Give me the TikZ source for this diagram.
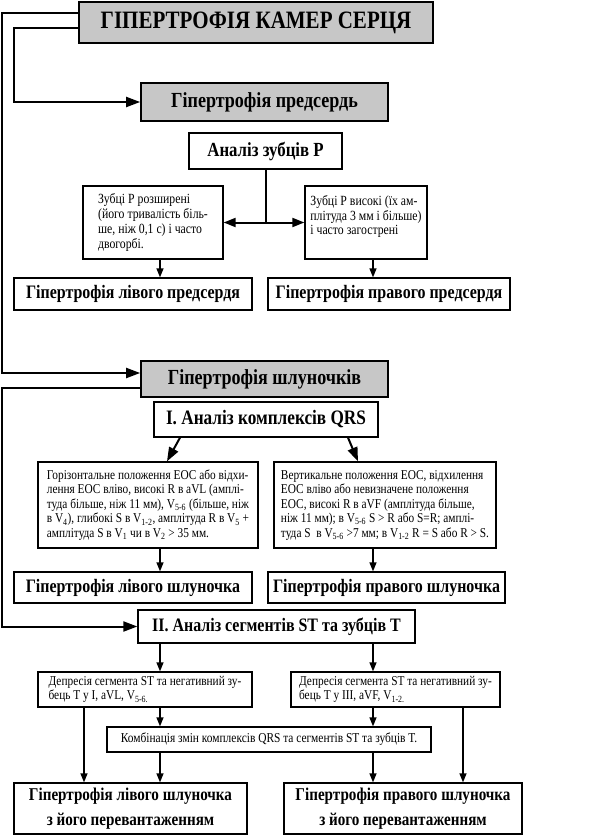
\documentclass[tikz,border=0pt]{standalone}
\usepackage{fontspec}
\setmainfont{Liberation Serif}[FakeStretch=0.84]
\usetikzlibrary{arrows.meta}

\begin{document}
\begin{tikzpicture}[x=1pt, y=-1pt,
    box/.style={draw, line width=1.3pt, inner sep=0pt, align=center},
    graybox/.style={box, fill=black!22, line width=1.7pt},
    head/.style={font=\bfseries\fontsize{19}{24}\selectfont},
    bighead/.style={font=\bfseries\fontsize{21.5}{24}\selectfont},
    note/.style={box, align=left, font=\fontsize{13.5}{14.5}\selectfont},
    link/.style={line width=1.3pt},
    arr/.style={link, -{Triangle[length=9pt, width=7pt]}},
    bigarr/.style={line width=2pt, -{Triangle[length=14pt, width=10pt]}},
    dblarr/.style={line width=2pt, {Triangle[length=12pt, width=9pt]}-{Triangle[length=12pt, width=9pt]}}]
    \useasboundingbox (0,0) rectangle (614,835);
    \coordinate (outer) at (2,0);
    \coordinate (inner) at (14,0);
    \coordinate (lcol) at (160,0);
    \coordinate (rcol) at (373,0);
    \coordinate (lfar) at (84,0);
    \coordinate (rfar) at (463,0);

    \node[graybox, minimum width=354pt, minimum height=41pt,
        font=\bfseries\fontsize{25}{27}\selectfont] (heart) at (256,22.5) {ГІПЕРТРОФІЯ КАМЕР СЕРЦЯ};
    \node[graybox, bighead, minimum width=247pt, minimum height=38pt] (atria) at (264.5,102) {Гіпертрофія предсердь};
    \node[box, head, font=\bfseries\fontsize{20}{24}\selectfont, minimum width=153pt, minimum height=36pt] (panal) at (265.5,151) {Аналіз зубців Р};
    \node[note, font=\fontsize{14}{14.7}\selectfont, minimum width=140pt, minimum height=73pt] (pleft) at (153,222.5)
        {Зубці Р розширені\\(його тривалість біль-\\ше, ніж 0,1 с) і часто\\двогорбі.};
    \node[note, font=\fontsize{14}{14.7}\selectfont, minimum width=122pt, minimum height=73pt] (pright) at (366,222.5)
        {Зубці Р високі (їх ам-\\плітуда 3 мм і більше)\\і часто загострені\\\mbox{}};
    \node[box, head, minimum width=238pt, minimum height=32pt] (latr) at (133,294) {Гіпертрофія лівого предсердя};
    \node[box, head, minimum width=242pt, minimum height=32pt] (ratr) at (389,294) {Гіпертрофія правого предсердя};

    \node[graybox, bighead, minimum width=247pt, minimum height=36pt] (vent) at (264.5,379) {Гіпертрофія шлуночків};
    \node[box, font=\bfseries\fontsize{20.5}{24}\selectfont, minimum width=224pt, minimum height=35pt] (qrs) at (266,419.5) {І. Аналіз комплексів QRS};
    \node[note, minimum width=220pt, minimum height=86pt] (qleft) at (148,505)
        {Горізонтальне положення ЕОС або відхи-\\
         лення ЕОС вліво, високі R в aVL (амплі-\\
         туда більше, ніж 11 мм), V\textsubscript{5-6} (більше, ніж\\
         в V\textsubscript{4}), глибокі S в V\textsubscript{1-2}, амплітуда R в V\textsubscript{5} +\\
         амплітуда S в V\textsubscript{1} чи в V\textsubscript{2} > 35 мм.};
    \node[note, minimum width=222pt, minimum height=86pt] (qright) at (385,505)
        {Вертикальне положення ЕОС, відхилення\\
         ЕОС вліво або невизначене положення\\
         ЕОС, високі R в aVF (амплітуда більше,\\
         ніж 11 мм); в V\textsubscript{5-6} S > R або S=R; амплі-\\
         туда S\ \ в V\textsubscript{5-6} >7 мм; в V\textsubscript{1-2} R = S або R > S.};
    \node[box, head, minimum width=238pt, minimum height=31pt] (lv) at (133,587.5) {Гіпертрофія лівого шлуночка};
    \node[box, head, minimum width=237pt, minimum height=31pt] (rv) at (386.5,587.5) {Гіпертрофія правого шлуночка};

    \node[box, head, minimum width=277pt, minimum height=33pt] (st) at (276.5,626.5) {ІІ. Аналіз сегментів ST та зубців Т};
    \node[note, minimum width=214pt, minimum height=35pt] (stleft) at (145,689.5)
        {Депресія сегмента ST та негативний зу-\\бець Т у І, aVL, V\textsubscript{5-6.}};
    \node[note, minimum width=209pt, minimum height=35pt] (stright) at (395.5,689.5)
        {Депресія сегмента ST та негативний зу-\\бець Т у ІІІ, aVF, V\textsubscript{1-2.}};
    \node[box, minimum width=324pt, minimum height=25pt, font=\fontsize{13.6}{15}\selectfont] (comb) at (269,739.5)
        {Комбінація змін комплексів QRS та сегментів ST та зубців Т.};
    \node[box, font=\bfseries\fontsize{18}{25}\selectfont, minimum width=233pt, minimum height=51pt] (lvo) at (130.5,808.5)
        {Гіпертрофія лівого шлуночка\\з його перевантаженням};
    \node[box, font=\bfseries\fontsize{18}{25}\selectfont, minimum width=238pt, minimum height=51pt] (rvo) at (403,808.5)
        {Гіпертрофія правого шлуночка\\з його перевантаженням};

    \draw[bigarr] ([yshift=9.5pt]heart.west) -| ([yshift=6pt]outer |- vent.west) -- ([yshift=6pt]vent.west);
    \draw[bigarr] ([yshift=-5.5pt]heart.west) -| (inner |- atria.west) -- (atria.west);
    \draw[bigarr] ([yshift=-9pt]vent.west) -| (outer |- st.west) -- (st.west);

    \draw[line width=2pt] (panal.south) -- (panal.south |- pleft.east);
    \draw[dblarr] (pleft.east) -- (pright.west);
    \draw[arr] (pleft.south -| lcol) -- (latr.north -| lcol);
    \draw[arr] (pright.south -| rcol) -- (ratr.north -| rcol);

    \draw[bigarr] ([xshift=-86pt]qrs.south) -- ([xshift=19pt]qleft.north);
    \draw[bigarr] ([xshift=82pt]qrs.south) -- ([xshift=-27pt]qright.north);
    \draw[arr] (qleft.south -| lcol) -- (lv.north -| lcol);
    \draw[arr] (qright.south -| rcol) -- (rv.north -| rcol);

    \draw[arr] (st.south -| lcol) -- (stleft.north -| lcol);
    \draw[arr] (st.south -| rcol) -- (stright.north -| rcol);
    \draw[arr] (stleft.south -| lfar) -- (lvo.north -| lfar);
    \draw[arr] (stleft.south -| lcol) -- (comb.north -| lcol);
    \draw[arr] (stright.south -| rcol) -- (comb.north -| rcol);
    \draw[arr] (stright.south -| rfar) -- (rvo.north -| rfar);
    \draw[arr] (comb.south -| lcol) -- (lvo.north -| lcol);
    \draw[arr] (comb.south -| rcol) -- (rvo.north -| rcol);
\end{tikzpicture}
\end{document}
